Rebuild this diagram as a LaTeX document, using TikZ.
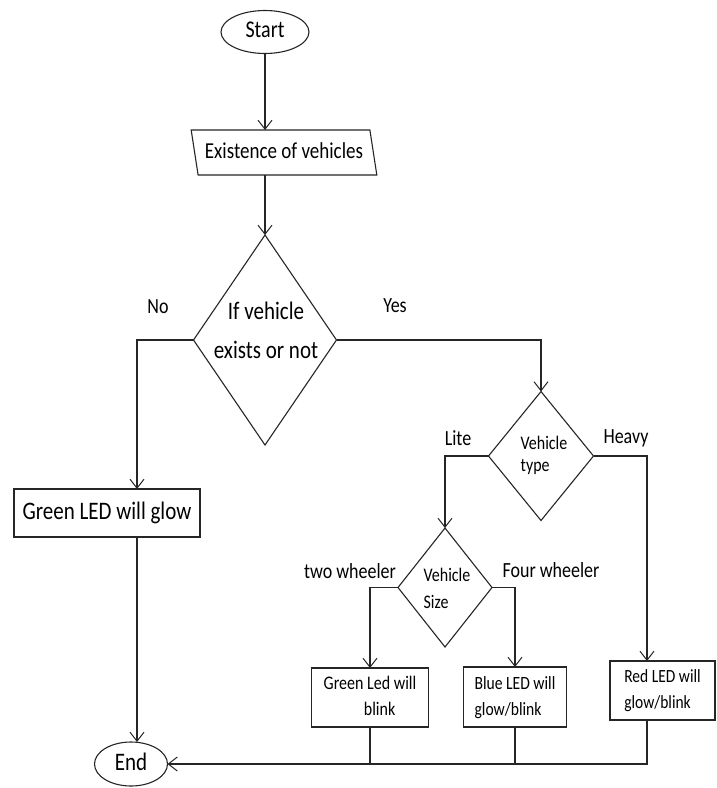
\documentclass[tikz,border=0pt]{standalone}
\usepackage{fontspec}
\setmainfont{Carlito}
\usepackage{graphicx}
\usetikzlibrary{shapes.geometric,arrows.meta}
\newcommand\tx[2][c]{\scalebox{1}[1.2]{\begin{tabular}{@{}#1@{}}#2\end{tabular}}}
\newcommand\fs[2]{\fontsize{#1}{#2}\selectfont}
\begin{document}
\begin{tikzpicture}[x=1pt,y=-1pt,
  every node/.style={inner sep=0pt, outer sep=0pt, text=black},
  ln/.style={line width=1.1pt, draw=black!85},
  arr/.style={ln, -{Straight Barb[length=9pt,width=14pt,line width=1pt]}},
  term/.style={ellipse, draw=black!85, line width=1.1pt},
  io/.style={trapezium, trapezium left angle=103, trapezium right angle=77, trapezium stretches=true, draw=black!85, line width=1.1pt},
  proc/.style={rectangle, draw=black!85, line width=1.1pt},
  dec/.style={diamond, draw=black!85, line width=1.1pt},
  lbl/.style={}
]
\useasboundingbox (0,0) rectangle (716,788);
\fill[white] (0,0) rectangle (716,788);

% shapes
\node[term, minimum width=88, minimum height=43, font=\fs{20}{24}] (start) at (265,32) {\tx{Start}};
\node[io, minimum width=186, minimum height=45, font=\fs{19}{23}] (exist) at (284,152.5) {\tx{Existence of vehicles}};
\node[dec, minimum width=143, minimum height=210] (d1) at (265,340) {};
\node[lbl, font=\fs{21}{32.5}] (d1t) at (266,331) {\tx{If vehicle\\exists or not}};
\node[lbl, font=\fs{18}{22}] (no) at (158,308) {\tx{No}};
\node[lbl, font=\fs{18}{22}] (yes) at (395,307) {\tx{Yes}};

\node[proc, minimum width=186, minimum height=48, font=\fs{21}{25}] (green) at (107,513) {\tx{Green LED will glow}};
\node[term, minimum width=73, minimum height=44, font=\fs{21}{25}] (end) at (131,764) {\tx{End}};

\node[dec, minimum width=105, minimum height=129] (d2) at (541,456) {};
\node[lbl, font=\fs{16}{19}] (d2t) at (544,456) {\tx[l]{Vehicle\\type}};
\node[lbl, font=\fs{18}{22}] (lite) at (458,440) {\tx{Lite}};
\node[lbl, font=\fs{18}{22}] (heavy) at (626,438) {\tx{Heavy}};

\node[dec, minimum width=94, minimum height=119] (d3) at (445,587.5) {};
\node[lbl, font=\fs{16}{22.5}] (d3t) at (447,590) {\tx[l]{Vehicle\\Size}};
\node[lbl, font=\fs{18}{22}] (two) at (350,573) {\tx{two wheeler}};
\node[lbl, font=\fs{18}{22}] (four) at (551,572) {\tx{Four wheeler}};

\node[proc, minimum width=117, minimum height=59, font=\fs{16}{21.5}] (gb) at (370,697.5) {\tx{Green Led will\\\hspace{1.2em}blink}};
\node[proc, minimum width=103, minimum height=60, font=\fs{15.6}{21.5}] (bb) at (515,697) {\tx[l]{Blue LED will\\glow/blink}};
\node[proc, minimum width=105, minimum height=59, font=\fs{15.5}{21.5}] (rb) at (662.5,690.5) {\tx[l]{Red LED will\\glow/blink}};

\coordinate (cno) at (137,338);
\coordinate (chv) at (647,454);

% connectors
\draw[arr] (start.south) -- (start.south |- exist.north);
\draw[arr] (d1.north |- exist.south) -- (d1.north);
\draw[arr] (d1.west) -- (cno |- d1.west) -- (cno |- green.north);
\draw[arr] (cno |- green.south) -- (cno |- end.north);
\draw[arr] (d1.east) -| (d2.north);
\draw[arr] (d2.west) -| (d3.north);
\draw[arr] (d2.east) -| (chv |- rb.north);
\draw[arr] (d3.west) -| (gb.north);
\draw[arr] (d3.east) -| (bb.north);
\draw[arr] (chv |- rb.south) |- (end.east);
\draw[ln] (gb.south) -- (gb.south |- end.east);
\draw[ln] (bb.south) -- (bb.south |- end.east);
\end{tikzpicture}
\end{document}
